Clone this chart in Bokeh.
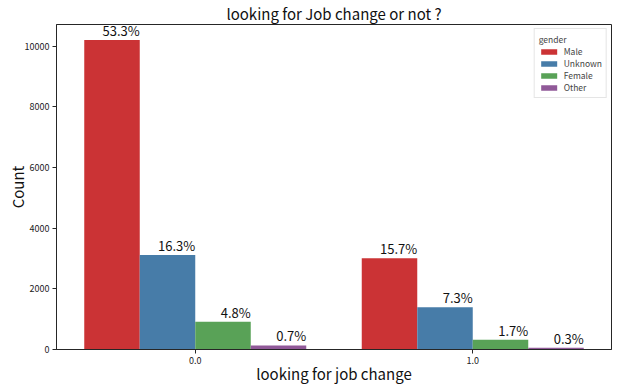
from bokeh.plotting import figure
from bokeh.models import FactorRange, Range1d, ColumnDataSource, FixedTicker
from bokeh.transform import dodge
from bokeh.core.properties import value
from bokeh.embed import file_html
from bokeh.resources import INLINE

categories = ["0.0", "1.0"]
genders = ["Male", "Unknown", "Female", "Other"]
male = [10210, 3010]
unknown = [3120, 1395]
female = [915, 325]
other = [135, 55]
colors = ["#cb3335", "#477ca8", "#59a257", "#905998"]
y_ticks = [0, 2000, 4000, 6000, 8000, 10000]
title_text = "looking for Job change or not ?"
x_label = "looking for job change"
y_label = "Count"

series = [male, unknown, female, other]
total = sum(sum(s) for s in series)
FONT = "Noto Sans CJK SC"
INK = "#262626"

p = figure(width=620, height=387,
           x_range=FactorRange(*categories),
           y_range=Range1d(0, max(max(s) for s in series) * 1.05),
           output_backend="svg", toolbar_location=None,
           title=title_text,
           min_border_left=56, min_border_right=9, min_border_top=23, min_border_bottom=38)

n = len(series)
bw = 0.8 / n
for i, (g, vals, c) in enumerate(zip(genders, series, colors)):
    off = (i - (n - 1) / 2) * bw
    src = ColumnDataSource(dict(cat=categories, count=vals,
                                lbl=[f"{v / total * 100:.1f}%" for v in vals]))
    p.vbar(x=dodge("cat", off, range=p.x_range), top="count", width=bw,
           fill_color=c, line_color=None, source=src, legend_label=g)
    p.text(x=dodge("cat", off + bw / 2, range=p.x_range), y="count", text="lbl",
           source=src, text_align="right", text_baseline="bottom",
           text_font=value(FONT), text_font_size="13px", text_color="#111111")

p.title.text_font = FONT
p.title.text_font_size = "15px"
p.title.text_font_style = "normal"
p.title.align = "center"
p.title.text_color = "#111111"
p.title.standoff = 1
p.title.offset = 6

p.xgrid.visible = False
p.ygrid.visible = False
p.outline_line_color = INK
p.outline_line_alpha = 1
p.outline_line_width = 1

for ax in (p.xaxis, p.yaxis):
    ax.axis_line_color = INK
    ax.major_tick_line_color = INK
    ax.major_tick_in = 0
    ax.major_tick_out = 4
    ax.minor_tick_line_color = None
    ax.major_label_text_font = FONT
    ax.major_label_text_font_size = "9px"
    ax.major_label_text_color = "#222222"
    ax.major_label_standoff = 3
    ax.axis_label_text_font = FONT
    ax.axis_label_text_font_size = "15px"
    ax.axis_label_text_font_style = "normal"
    ax.axis_label_text_color = "#111111"

p.xaxis.axis_label = x_label
p.xaxis.axis_label_standoff = -4
p.yaxis.axis_label = y_label
p.yaxis.axis_label_standoff = -6
p.yaxis.ticker = FixedTicker(ticks=y_ticks)

lg = p.legend[0]
lg.title = "gender"
lg.title_text_font = FONT
lg.title_text_font_size = "8.5px"
lg.title_text_font_style = "normal"
lg.title_standoff = 0
lg.location = "top_right"
lg.label_text_font = FONT
lg.label_text_font_size = "8.5px"
lg.label_height = 9
lg.glyph_width = 20
lg.glyph_height = 7
lg.label_standoff = 5
lg.spacing = 0
lg.padding = 4
lg.margin = 4
lg.border_line_color = "#cccccc"
lg.background_fill_alpha = 0.8

open("out.html", "w").write(file_html(p, INLINE))
